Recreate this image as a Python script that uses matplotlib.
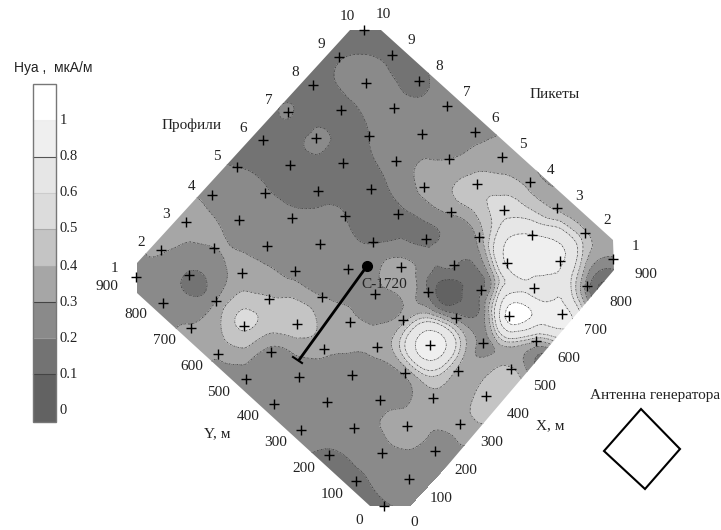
"""Карта Hya: контуры по профилям и пикетам, повёрнутая на 45 градусов"""
import matplotlib
matplotlib.use("Agg")
import matplotlib.pyplot as plt
import matplotlib.tri as mtri
import numpy as np
from matplotlib.patches import Polygon

plt.rcParams["font.family"] = ["Liberation Serif", "DejaVu Serif"]

# grid of readings, metres; +-50 rows are the values just outside the pluses
X_M = [-50, 0, 100, 200, 300, 400, 500, 600, 700, 800, 900, 950]
Y_M = [-50, 0, 100, 200, 300, 400, 500, 600, 700, 800, 900, 950]
HYA = [
    [.18, .19, .25, .27, .34, .45, .38, .20, .75, .12, .16, .20],
    [.18, .195, .25, .27, .35, .46, .41, .42, .90, .25, .29, .33],
    [.17, .19, .26, .34, .37, .38, .27, 1.08, .74, .85, .42, .34],
    [.17, .19, .25, .26, .33, .96, .27, .19, .83, .81, .38, .34],
    [.24, .25, .25, .25, .33, .36, .19, .21, .34, .55, .36, .28],
    [.25, .25, .25, .33, .33, .26, .35, .18, .32, .45, .34, .33],
    [.26, .26, .27, .47, .30, .26, .19, .17, .33, .30, .27, .27],
    [.31, .32, .52, .41, .27, .25, .20, .17, .25, .26, .24, .26],
    [.31, .31, .30, .33, .26, .22, .16, .16, .20, .24, .18, .22],
    [.27, .27, .19, .30, .25, .205, .16, .225, .16, .25, .17, .16],
    [.26, .27, .31, .33, .27, .20, .16, .215, .15, .19, .14, .14],
    [.27, .28, .31, .32, .27, .19, .15, .15, .14, .14, .14, .14],
]
# readings between the pluses
EXTRA_X = [556, 650, 450, 350, 400, 400, 350, 450, 350, 450,
           500, 600, 550, 550, 200, 150, 650, 575, 550, 550, 500, 600,
           550, 650, 550, 650, 550, 650]
EXTRA_Y = [236, 50, 200, 200, 250, 150, 150, 250, 250, 150,
           250, 250, 200, 300, 550, 550, 200, 150, 100, 50, 50, 850,
           750, 750, 850, 850, 900, 900]
EXTRA_Z = [.09, .95, .72, .72, .72, .72, .58, .52, .58, .58,
           .12, .12, .12, .12, .47, .45, .40, .40, .55, .50, .33, .16,
           .16, .16, .16, .16, .16, .16]

LEVELS = [-1, .1, .2, .3, .4, .5, .6, .8, 1, 3]
GRAYS = ["#626262", "#737373", "#8a8a8a", "#a6a6a6", "#c4c4c4",
         "#dcdcdc", "#e6e6e6", "#efefef", "#ffffff"]
BAR_LABELS = ["0", "0.1", "0.2", "0.3", "0.4", "0.5", "0.6", "0.8", "1"]
PROFILES = list(range(1, 11))
PICKETS = list(range(1, 11))
Y_TICKS = [800, 700, 600, 500, 400, 300, 200, 100, 0]
X_TICKS = [0, 100, 200, 300, 400, 500, 600, 700, 800, 900]
FS = 11


def to_px(x, y):
    x, y = np.asarray(x, float), np.asarray(y, float)
    return 384 + .254 * x - .276 * y, 506 - .275 * x - .254 * y


def label(tx, ty, s, **kw):
    ax.text(tx, ty, s, ha="center", va="center", fontsize=FS, color="#222222", **kw)


fig = plt.figure(figsize=(7.21, 5.30), dpi=100)
ax = fig.add_axes([0, 0, 1, 1])
ax.set_xlim(0, 721)
ax.set_ylim(530, 0)
ax.axis("off")

gx, gy = np.meshgrid(X_M, Y_M)
xm = np.r_[gx.ravel(), EXTRA_X]
ym = np.r_[gy.ravel(), EXTRA_Y]
zz = np.r_[np.array(HYA).ravel(), EXTRA_Z]
px, py = to_px(xm, ym)
tri = mtri.Triangulation(px, py)
interp = mtri.CubicTriInterpolator(tri, zz, kind="min_E")
fine, zfine = mtri.UniformTriRefiner(tri).refine_field(zz, interp, subdiv=3)

outline = Polygon([(350, 30), (381, 30), (613, 240), (614, 270), (413, 506),
                   (370, 506), (137, 293), (137, 263)],
                  closed=True, fc="none", ec="none", transform=ax.transData)
ax.add_patch(outline)
cf = ax.tricontourf(fine, zfine, levels=LEVELS, colors=GRAYS, zorder=1)
cf.set_clip_path(outline)
cl = ax.tricontour(fine, zfine, levels=LEVELS[1:-1], colors="#3a3a3a", linewidths=.5, zorder=2)
cl.set_linestyle((0, (2.5, 1.2, .8, 1.2)))
cl.set_clip_path(outline)

# measurement points
mx, my = np.meshgrid(X_M[1:-1], Y_M[1:-1])
plus_x, plus_y = to_px(mx.ravel(), my.ravel())
ax.plot(plus_x, plus_y, "+", color="black", ms=7, mew=1, zorder=4)

# well and its line
ax.plot([367, 299], [266, 360], color="black", lw=2, zorder=5)
ax.plot([293, 302], [357, 363], color="black", lw=1.5, zorder=5)
ax.plot([367], [266], "o", color="black", ms=7, zorder=6)
label(384, 284, "C-1720", zorder=6)

# axis labels round the square
for n, (tx, ty) in zip(PROFILES, [(114, 268), (141, 242), (166, 214), (192, 186), (217, 157),
                                  (243, 129), (269, 101), (295, 72), (321, 44), (347, 16)]):
    label(tx, ty, str(n))
for n, (tx, ty) in zip(PICKETS, [(635, 247), (607, 221), (579, 196), (551, 170), (523, 144),
                                 (495, 118), (467, 92), (439, 66), (411, 40), (383, 15)]):
    label(tx, ty, str(n))
for n, (tx, ty) in zip(Y_TICKS, [(136, 315), (164, 340), (192, 366), (219, 392), (248, 417),
                                 (276, 443), (304, 468), (332, 495), (359, 520)]):
    label(tx, ty, str(n))
label(107, 287, "900")
for n, (tx, ty) in zip(X_TICKS, [(414, 522), (441, 499), (466, 471), (492, 443), (518, 415),
                                 (544, 387), (569, 359), (595, 331), (621, 303), (646, 275)]):
    label(tx, ty, str(n))

label(217, 434, "Y, м")
label(550, 426, "X, м")
label(192, 125, "Профили")
label(555, 94, "Пикеты")
label(655, 395, "Антенна генератора")

# generator antenna
ax.add_patch(Polygon([(641, 409), (680, 449), (645, 489), (604, 451)], closed=True,
                     fc="none", ec="black", lw=1.5))

# scale bar on the left
edges = [422, 374, 338, 302, 266, 229, 193, 157, 120, 84]
for i, g in enumerate(GRAYS):
    ax.fill_between([33, 56], edges[i], edges[i + 1], color=g, lw=0, zorder=1)
for e, c in zip(edges[1:-1], ["#444444", "#999999", "#444444", "#aaaaaa", "#aaaaaa",
                              "#cccccc", "#555555", "#eeeeee"]):
    ax.plot([33, 56], [e, e], color=c, lw=.8, zorder=2)
ax.add_patch(plt.Rectangle((33, 84), 23, 338, fc="none", ec="#777777", lw=1, zorder=3))
for lab, e in zip(BAR_LABELS[1:], edges[1:-1]):
    ax.text(60, e, lab, ha="left", va="center", fontsize=10.5, color="#222222")
ax.text(60, 410, BAR_LABELS[0], ha="left", va="center", fontsize=10.5, color="#222222")
ax.text(53, 68, "Hуа ,  мкА/м", ha="center", va="center", fontsize=10, color="#222222",
        family=["Liberation Sans", "DejaVu Sans"])

fig.savefig("out.png", dpi=100, facecolor="white")
